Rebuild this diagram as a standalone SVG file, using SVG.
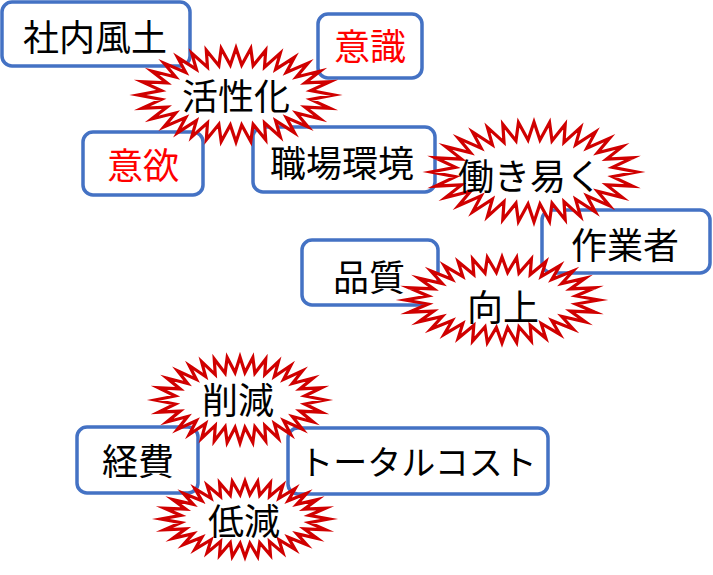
<svg xmlns="http://www.w3.org/2000/svg" xmlns:xlink="http://www.w3.org/1999/xlink" width="713" height="575" viewBox="0 0 713 575">
<style>
.box{fill:#fff;stroke:#4472C4;stroke-width:3.5}
.burst{fill:#fff;stroke:#D00000;stroke-width:3.2;stroke-linejoin:miter;stroke-miterlimit:10;vector-effect:non-scaling-stroke}
.t{font-family:"Noto Sans CJK JP","Noto Sans CJK SC",sans-serif;font-size:36px;text-anchor:middle;fill:#000}
.r{fill:#FF0000}
</style>
<defs>
<polygon id="burst" class="burst" points="100,0 76.2,4.7 95.9,14.2 70.4,12.9 86,25.5 61.6,19.2 73.5,33.9 51.3,23.9 59.7,40.1 40.4,27.2 45.2,44.6 29.1,29.6 30.3,47.7 17.5,31.2 15.1,49.4 5.8,31.9 0,50 -5.8,31.9 -15.1,49.4 -17.5,31.2 -30.3,47.7 -29.1,29.6 -45.2,44.6 -40.4,27.2 -59.7,40.1 -51.3,23.9 -73.5,33.9 -61.6,19.2 -86,25.5 -70.4,12.9 -95.9,14.2 -76.2,4.7 -100,0 -76.2,-4.7 -95.9,-14.2 -70.4,-12.9 -86,-25.5 -61.6,-19.2 -73.5,-33.9 -51.3,-23.9 -59.7,-40.1 -40.4,-27.2 -45.2,-44.6 -29.1,-29.6 -30.3,-47.7 -17.5,-31.2 -15.1,-49.4 -5.8,-31.9 0,-50 5.8,-31.9 15.1,-49.4 17.5,-31.2 30.3,-47.7 29.1,-29.6 45.2,-44.6 40.4,-27.2 59.7,-40.1 51.3,-23.9 73.5,-33.9 61.6,-19.2 86,-25.5 70.4,-12.9 95.9,-14.2 76.2,-4.7"/>
</defs>
<rect width="713" height="575" fill="#fff"/>
<g id="connectors"></g>
<g id="n-shanai"><rect class="box" x="2" y="2" width="188" height="64" rx="10"/><text class="t" x="95" y="51">社内風土</text></g>
<g id="n-ishiki"><rect class="box" x="318" y="14" width="104" height="64" rx="10"/><text class="t r" x="370" y="60">意識</text></g>
<g id="n-iyoku"><rect class="box" x="83" y="132" width="120" height="63" rx="10"/><text class="t r" x="143" y="179">意欲</text></g>
<g id="n-shokuba"><rect class="box" x="253" y="127" width="182" height="65" rx="10"/><text class="t" x="342" y="177">職場環境</text></g>
<g id="n-sagyousha"><rect class="box" x="542" y="210" width="168" height="63" rx="10"/><text class="t" x="625" y="259">作業者</text></g>
<g id="n-hinshitsu"><rect class="box" x="302" y="240" width="136" height="65" rx="10"/><text class="t" x="369" y="291">品質</text></g>
<g id="n-keihi"><rect class="box" x="77" y="427" width="121" height="66" rx="10"/><text class="t" x="138" y="475">経費</text></g>
<g id="n-total"><rect class="box" x="288" y="428" width="260" height="66" rx="10"/><text class="t" x="418" y="475" style="font-size:34px">トータルコスト</text></g>
<g id="n-kasseika"><use xlink:href="#burst" transform="translate(236,95) scale(0.98,0.94)"/><text class="t" x="236" y="110">活性化</text></g>
<g id="n-hatarakiyasuku"><use xlink:href="#burst" transform="translate(534,172) scale(1.03,1.0)"/><text class="t" x="530" y="190">働き易く</text></g>
<g id="n-koujou"><use xlink:href="#burst" transform="translate(502,300) scale(0.97,0.86)"/><text class="t" x="503" y="321">向上</text></g>
<g id="n-sakugen"><use xlink:href="#burst" transform="translate(240,400) scale(0.85,0.86)"/><text class="t" x="238" y="414">削減</text></g>
<g id="n-teigen"><use xlink:href="#burst" transform="translate(245,519) scale(0.84,0.76)"/><text class="t" x="244" y="535">低減</text></g>
</svg>
